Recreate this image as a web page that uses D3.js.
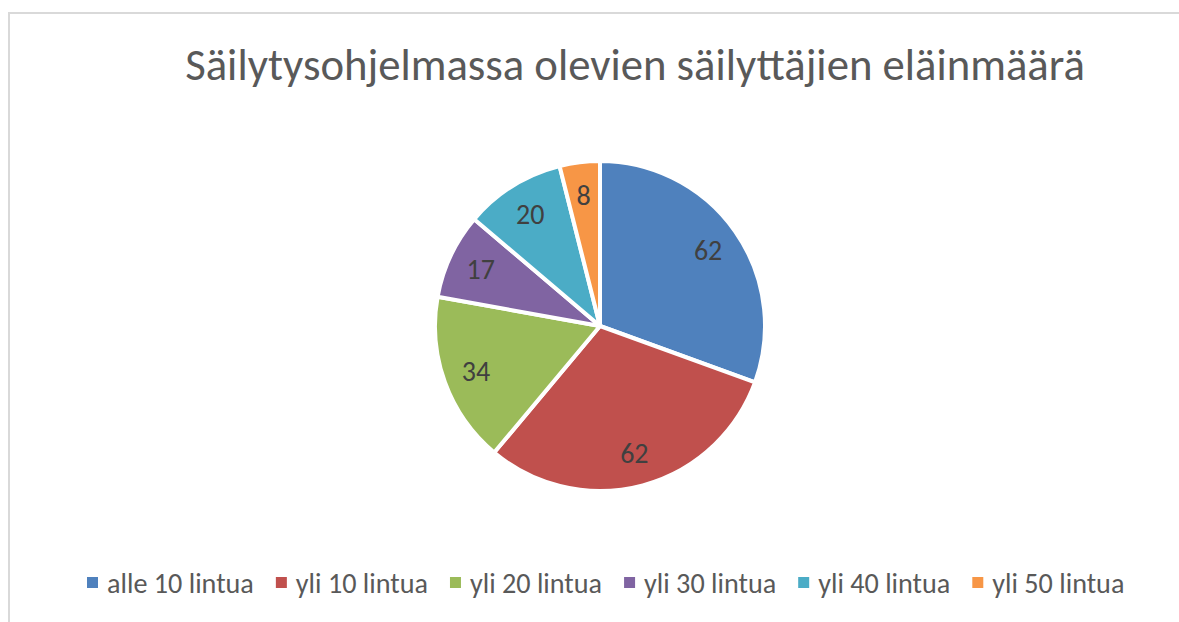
<!DOCTYPE html>
<html><head><meta charset="utf-8">
<script src="https://cdn.jsdelivr.net/npm/d3@7"></script>
<style>body{margin:0;background:#fff}svg{display:block}</style>
</head><body>
<svg id="c" width="1179" height="622"></svg>
<script>
const title = "Säilytysohjelmassa olevien säilyttäjien eläinmäärä";
const categories = ["alle 10 lintua","yli 10 lintua","yli 20 lintua","yli 30 lintua","yli 40 lintua","yli 50 lintua"];
const values = [62,62,34,17,20,8];
const colors = ["#4F81BD","#C0504D","#9BBB59","#8064A2","#4BACC6","#F79646"];

const svg = d3.select("#c");
const font = "Calibri, Carlito, 'Open Sans', 'Noto Sans', sans-serif";
svg.append("rect").attr("x",9).attr("y",13).attr("width",1200).attr("height",700)
  .attr("fill","none").attr("stroke","#d9d9d9").attr("stroke-width",2);

const t = svg.append("text").attr("x",635).attr("y",80).attr("text-anchor","middle")
  .attr("font-family",font).attr("font-size",38).attr("fill","#595959").text(title);
const tw = t.node().getComputedTextLength();
t.attr("font-size", 38*900/tw);

const cx=600, cy=326, r=165;
const pie = d3.pie().sort(null).value(d=>d)(values);
const arc = d3.arc().innerRadius(0).outerRadius(r);
const g = svg.append("g").attr("transform",`translate(${cx},${cy})`);
g.selectAll("path").data(pie).join("path").attr("d",arc)
  .attr("fill",(d,i)=>colors[i]).attr("stroke","#fff").attr("stroke-width",4).attr("stroke-linejoin","round");
const la = d3.arc().innerRadius(r*0.8).outerRadius(r*0.8);
g.selectAll("text").data(pie).join("text")
  .attr("transform",d=>`translate(${la.centroid(d)})`)
  .attr("text-anchor","middle").attr("dy","0.35em")
  .attr("font-family",font).attr("font-size",28).attr("fill","#404040")
  .text(d=>d.data);

// legend
const lg = svg.append("g");
const items = lg.selectAll("g").data(categories).join("g");
items.append("rect").attr("width",11).attr("height",11).attr("y",-6).attr("fill",(d,i)=>colors[i]);
const lt = items.append("text").attr("x",20).attr("dy","0.35em")
  .attr("font-family",font).attr("font-size",22).attr("fill","#595959").text(d=>d);
let widths = lt.nodes().map(n=>n.getComputedTextLength());
const gap = 22, off = 20;
const sumW = widths.reduce((a,b)=>a+b,0);
const fixed = categories.length*off + gap*(categories.length-1);
const fs = 22*((1125-87)-fixed)/sumW;
lt.attr("font-size",fs);
widths = lt.nodes().map(n=>n.getComputedTextLength());
let x = 87;
items.each(function(d,i){
  d3.select(this).attr("transform",`translate(${x},583)`);
  x += off + widths[i] + gap;
});
</script>
</body></html>
